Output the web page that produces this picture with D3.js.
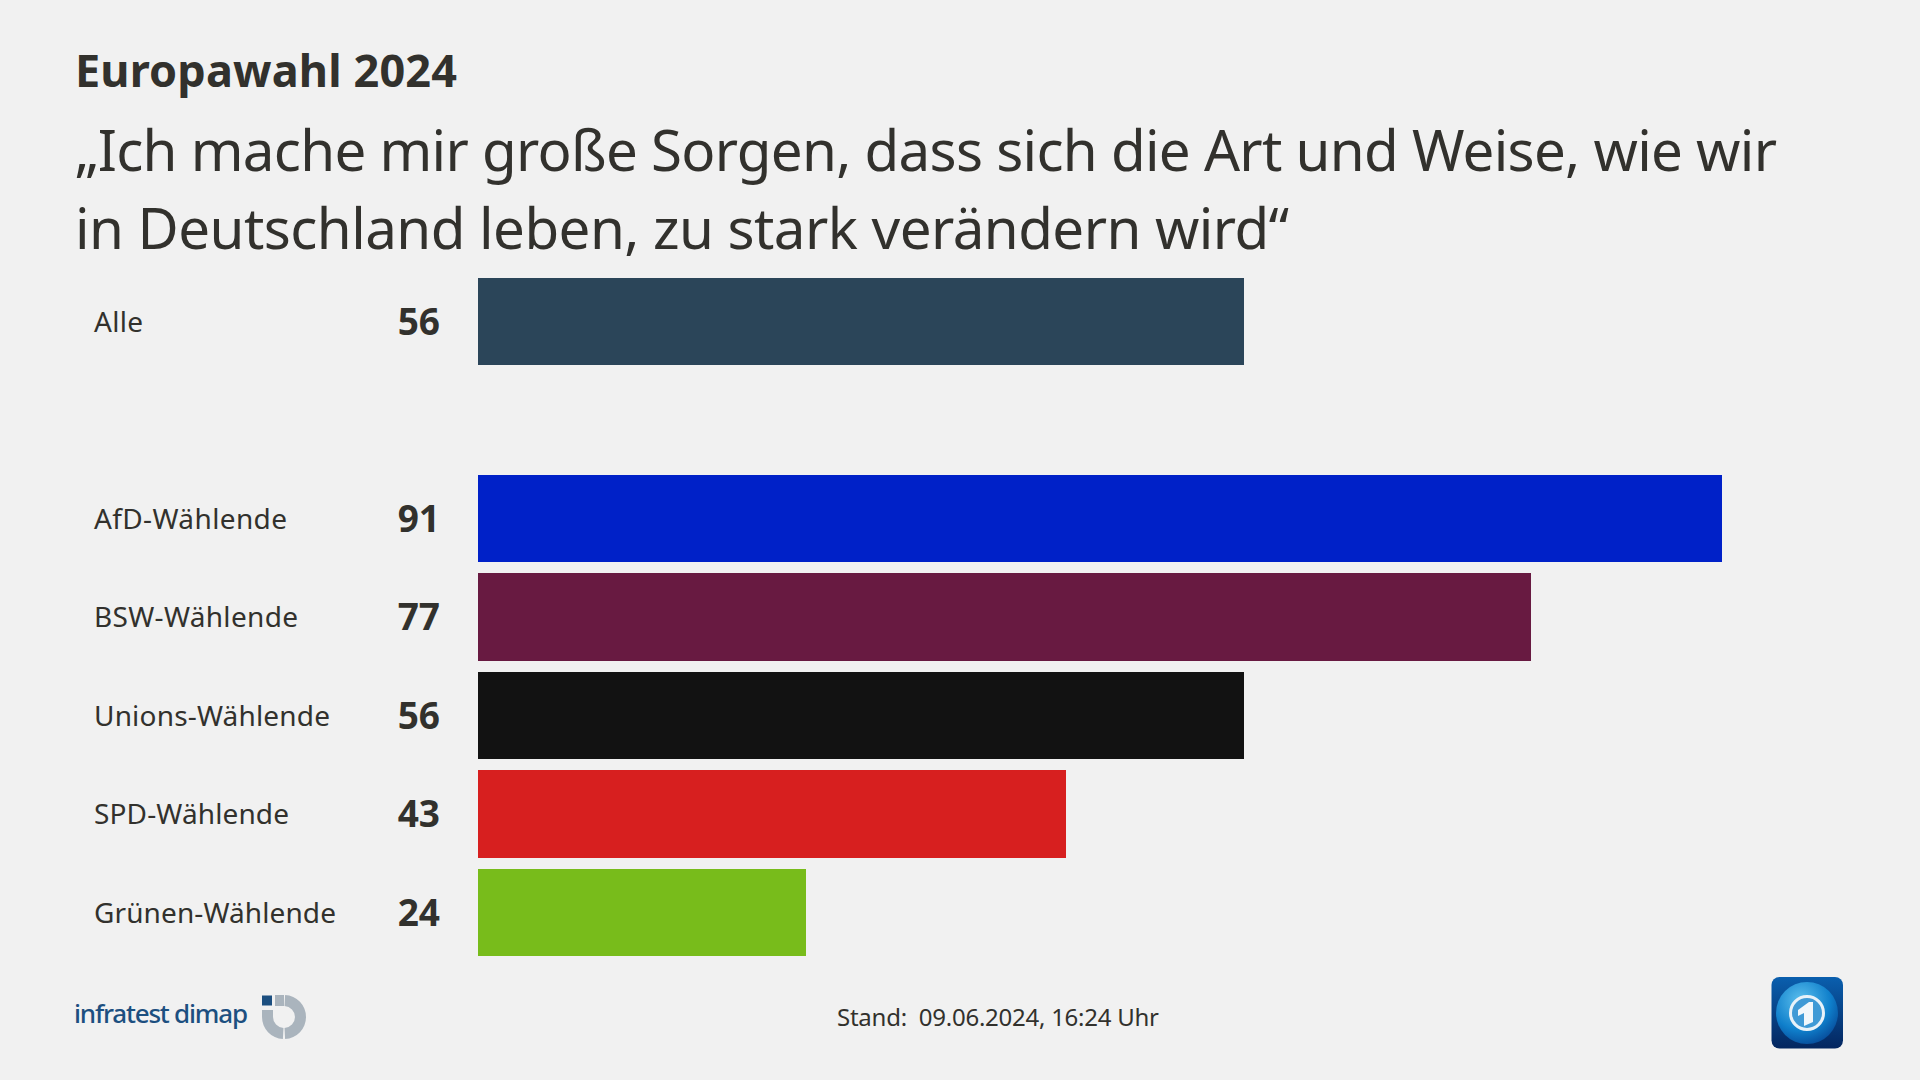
<!DOCTYPE html>
<html><head><meta charset="utf-8">
<script src="https://cdn.jsdelivr.net/npm/d3@7/dist/d3.min.js"></script>
<style>html,body{margin:0;padding:0;background:#f1f1f1;overflow:hidden}svg{display:block}text{font-family:"Noto Sans",sans-serif;fill:#32312d}</style>
</head><body><svg id="c" width="1920" height="1080"></svg>
<script>
const categories=["Alle","__gap__","AfD-Wählende","BSW-Wählende","Unions-Wählende","SPD-Wählende","Grünen-Wählende"];
const values=[56,null,91,77,56,43,24];
const colors=["#2b4559",null,"#0021c8","#681a41","#121212","#d71f1f","#78bc1b"];
const labelWidths=[49,null,193,204,236,195,242];
const titleText="Europawahl 2024";
const subtitleLines=["„Ich mache mir große Sorgen, dass sich die Art und Weise, wie wir","in Deutschland leben, zu stark verändern wird“"];
const sourceText="Stand:  09.06.2024, 16:24 Uhr";
const svg=d3.select("#c");
const x=d3.scaleLinear().domain([0,91]).range([478,1722]);
const y=d3.scaleBand().domain(categories).range([278,956]).paddingInner(11.5/98.5);
const by=c=>Math.floor(y(c)+0.001);
const bh=c=>Math.ceil(y(c)+y.bandwidth()-0.001)-by(c);
svg.append("text").attr("x",75).attr("y",86.5).attr("font-size",45).attr("font-weight",700).attr("textLength",382).text(titleText);
svg.selectAll(".sub").data(subtitleLines).join("text").attr("class","sub").attr("x",75).attr("y",(d,i)=>171+i*77.5).attr("font-size",56.5).attr("textLength",(d,i)=>[1702,1214][i]).text(d=>d);
const rows=categories.map((c,i)=>({c,v:values[i],col:colors[i],w:labelWidths[i]})).filter(d=>d.v!==null);
svg.selectAll(".bar").data(rows).join("rect").attr("class","bar").attr("x",x(0)).attr("y",d=>by(d.c)).attr("width",d=>Math.round(x(d.v))-x(0)).attr("height",d=>bh(d.c)).attr("fill",d=>d.col);
svg.selectAll(".lab").data(rows).join("text").attr("class","lab").attr("x",94).attr("y",d=>by(d.c)+43.5+10).attr("font-size",28).attr("textLength",d=>d.w).text(d=>d.c);
svg.selectAll(".val").data(rows).join("text").attr("class","val").attr("x",440).attr("y",d=>by(d.c)+43.5+13).attr("text-anchor","end").attr("font-size",37).attr("font-weight",700).text(d=>d.v);
svg.append("text").attr("x",837).attr("y",1026).attr("font-size",24).attr("xml:space","preserve").attr("textLength",322).text(sourceText);
// infratest dimap logo
svg.append("text").attr("x",74).attr("y",1023).attr("font-size",26).attr("font-weight",500).attr("textLength",174).style("fill","#1c4f80").text("infratest dimap");
const lg=svg.append("g").attr("transform","translate(284,1017)");
const arc=d3.arc();
lg.append("path").attr("d",arc({innerRadius:11,outerRadius:22,startAngle:0.05,endAngle:Math.PI-0.05})).attr("fill","#aab4bd");
lg.append("path").attr("d",arc({innerRadius:11,outerRadius:22,startAngle:Math.PI+0.05,endAngle:Math.PI*1.5})).attr("fill","#aab4bd");
lg.append("rect").attr("x",-22).attr("y",-7).attr("width",11).attr("height",7).attr("fill","#aab4bd");
lg.append("rect").attr("x",-9).attr("y",-22).attr("width",9).attr("height",11).attr("fill","#aab4bd");
lg.append("rect").attr("x",-22).attr("y",-21.5).attr("width",10).attr("height",10).attr("fill","#1c4f80");
// tagesschau icon
const defs=svg.append("defs");
const g1=defs.append("linearGradient").attr("id","ic").attr("x1",0).attr("y1",0).attr("x2",0).attr("y2",1);
g1.append("stop").attr("offset",0).attr("stop-color","#0a5fae");g1.append("stop").attr("offset",1).attr("stop-color","#04265f");
const g2=defs.append("radialGradient").attr("id","gl").attr("cx",.4).attr("cy",.3).attr("r",.8);
g2.append("stop").attr("offset",0).attr("stop-color","#5cc0ee");g2.append("stop").attr("offset",.6).attr("stop-color","#0f7fcb");g2.append("stop").attr("offset",1).attr("stop-color","#05408f");
const ic=svg.append("g").attr("transform","translate(1807,1013)");
ic.append("rect").attr("x",-35.5).attr("y",-36).attr("width",71.5).attr("height",71.5).attr("rx",8).attr("fill","url(#ic)");
ic.append("circle").attr("r",31).attr("fill","url(#gl)");
ic.append("circle").attr("r",16.5).attr("fill","#3f9ad6").attr("stroke","#e8f2f9").attr("stroke-width",3);
ic.append("path").attr("d",d3.line()([[-9,-3],[2,-11],[6,-11],[6,9],[-3,13],[-3,0],[-9,3]])).attr("fill","#f1f7fb");
</script></body></html>
